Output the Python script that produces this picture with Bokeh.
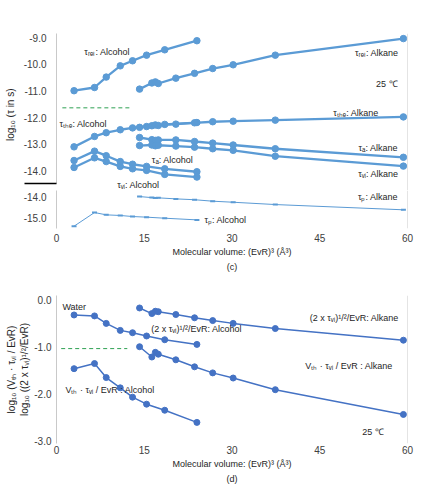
from bokeh.embed import file_html
from bokeh.layouts import column
from bokeh.models import FixedTicker, Label, LinearAxis, NumeralTickFormatter, Range1d, Span, Title
from bokeh.plotting import figure
from bokeh.resources import INLINE

# ---------------------------------------------------------------- data
# molecular volume (EvR)^3 in A^3
alc_x = [3.0, 6.5, 8.5, 10.9, 13.0, 15.4, 18.5, 24.0]
alk_x = [14.2, 16.3, 16.9, 17.4, 20.4, 23.6, 26.7, 30.2, 37.4, 59.3]

# (c) log10 of relaxation times (s)
rel_alc = [-10.99, -10.87, -10.48, -10.06, -9.87, -9.66, -9.46, -9.12]
rel_alk = [-10.93, -10.70, -10.66, -10.72, -10.52, -10.34, -10.16, -10.02, -9.66, -9.04]
the_alc = [-13.09, -12.70, -12.56, -12.45, -12.38, -12.33, -12.25, -12.18]
the_alk = [-12.36, -12.30, -12.27, -12.29, -12.24, -12.19, -12.15, -12.13, -12.09, -11.97]
a_alc = [-13.60, -13.25, -13.42, -13.64, -13.74, -13.82, -13.91, -14.02]
vi_alc = [-13.86, -13.50, -13.64, -13.82, -13.91, -13.97, -14.12, -14.22]
a_alk = [-12.74, -12.82, -12.85, -12.83, -12.83, -12.89, -12.95, -13.02, -13.16, -13.48]
vi_alk = [-13.04, -13.02, -13.05, -13.03, -13.06, -13.10, -13.16, -13.22, -13.44, -13.81]
p_alc = [-15.38, -14.73, -14.84, -14.87, -14.92, -14.95, -15.00, -15.08]
p_alk = [-13.97, -14.02, -14.04, -14.03, -14.08, -14.12, -14.19, -14.24, -14.35, -14.60]

# (d) normalised quantities
sq_alc = [-0.31, -0.33, -0.49, -0.64, -0.69, -0.76, -0.84, -0.94]
sq_alk = [-0.16, -0.28, -0.23, -0.24, -0.30, -0.37, -0.43, -0.49, -0.60, -0.85]
vth_alc = [-1.46, -1.35, -1.65, -1.87, -2.07, -2.22, -2.35, -2.61]
vth_alk = [-0.99, -1.21, -1.11, -1.15, -1.27, -1.42, -1.55, -1.66, -1.91, -2.44]

# reference levels (green dashed)
c_ref_x = [1.0, 12.6]
c_ref_y = -11.63
d_ref_x = [0.8, 12.1]
d_ref_y = -1.03

x_ticks = [0, 15, 30, 45, 60]
c_top_ticks = [-9, -10, -11, -12, -13, -14]
c_bot_ticks = [-14, -15]
d_ticks = [0, -1, -2, -3]

# where the upper (c) axis is cut
c_break = -14.46

# ---------------------------------------------------------------- style
FONT = "Liberation Sans"
BLUE_C = "#5b9bd5"
BLUE_D = "#4472c4"
GREEN = "#2ea052"
TXT = "#262626"
TICK = "#404040"
AXC = "#c9c9c9"
XTITLE = "Molecular volume: (EvR)\u00b3 (\u00c5\u00b3)"


def style_yaxis(ax, standoff):
    ax.axis_line_color = AXC
    ax.major_tick_line_color = None
    ax.minor_tick_line_color = None
    ax.major_tick_in = 0
    ax.major_tick_out = 0
    ax.minor_tick_in = 0
    ax.minor_tick_out = 0
    ax.formatter = NumeralTickFormatter(format="0.0")
    ax.major_label_text_font = FONT
    ax.major_label_text_font_size = "10px"
    ax.major_label_text_color = TICK
    ax.major_label_standoff = standoff
    ax.axis_label_text_font = FONT
    ax.axis_label_text_font_size = "10px"
    ax.axis_label_text_font_style = "normal"
    ax.axis_label_text_color = TXT


def make_fig(height, yr, left, right, top, bottom, with_x):
    p = figure(width=446, height=height, x_range=Range1d(0, 60), y_range=Range1d(*yr),
               output_backend="svg", toolbar_location=None,
               x_axis_location="below" if with_x else None,
               min_border_left=left, min_border_right=right,
               min_border_top=top, min_border_bottom=bottom)
    p.outline_line_color = None
    p.xgrid.visible = False
    p.ygrid.visible = False
    p.background_fill_color = "white"
    p.border_fill_color = "white"
    if with_x:
        ax = p.xaxis[0]
        ax.ticker = FixedTicker(ticks=x_ticks)
        ax.axis_line_color = None
        ax.major_tick_line_color = None
        ax.minor_tick_line_color = None
        ax.major_tick_in = 0
        ax.major_tick_out = 0
        ax.major_label_text_font = FONT
        ax.major_label_text_font_size = "10px"
        ax.major_label_text_color = TICK
        ax.axis_label = XTITLE
        ax.axis_label_text_font = FONT
        ax.axis_label_text_font_size = "9px"
        ax.axis_label_text_font_style = "normal"
        ax.axis_label_text_color = TXT
        ax.axis_label_standoff = 2
    p.add_layout(Span(location=60, dimension="height", line_color=AXC, line_width=1))
    return p


def note(p, x, y, text, align="left", size="9px"):
    p.add_layout(Label(x=x, y=y, text=text, text_align=align, text_baseline="middle",
                       text_font=FONT, text_font_size=size, text_color=TXT))


def series(p, xs, ys, color, lw, ms):
    p.line(xs, ys, line_color=color, line_width=lw)
    p.scatter(xs, ys, size=ms, color=color)


def panel_title(p, text):
    p.add_layout(Title(text=text, align="center", text_font=FONT, text_font_size="9px",
                       text_font_style="normal", text_color=TXT, standoff=0), "below")


# ---------------------------------------------------------------- (c) upper part
c_top = make_fig(190, (-14.722, -8.85), 54, 39, 33, 0, False)
yax = c_top.yaxis[0]
style_yaxis(yax, -22)
yax.ticker = FixedTicker(ticks=c_top_ticks, minor_ticks=[c_break])
yax.bounds = (c_break - 0.012, -8.85)
# the break mark is drawn as a long outward minor tick
yax.minor_tick_line_color = "black"
yax.minor_tick_line_width = 1.5
yax.minor_tick_out = 32
yax.axis_label = "log\u2081\u2080 (\u03c4  in  s)"
yax.axis_label_standoff = 5

for ys, xs in [(rel_alc, alc_x), (rel_alk, alk_x), (the_alc, alc_x), (the_alk, alk_x),
               (a_alc, alc_x), (vi_alc, alc_x), (a_alk, alk_x), (vi_alk, alk_x)]:
    series(c_top, xs, ys, BLUE_C, 2.3, 6.5)
c_top.line(c_ref_x, [c_ref_y, c_ref_y], line_color=GREEN, line_width=1, line_dash="4 3")

note(c_top, 4.76, -9.54, "\u03c4\u1d63\u2091\u2097: Alcohol")
note(c_top, 58.47, -9.58, "\u03c4\u1d63\u2091\u2097: Alkane", "right")
note(c_top, 58.3, -10.74, "25 \u2103", "right")
note(c_top, 55.07, -11.82, "\u03c4\u209c\u2095\u2091: Alkane", "right")
note(c_top, 0.51, -12.23, "\u03c4\u209c\u2095\u2091: Alcohol")
note(c_top, 16.3, -13.58, "\u03c4\u2090: Alcohol")
note(c_top, 58.8, -13.15, "\u03c4\u2090:  Alkane", "right")
note(c_top, 58.47, -14.09, "\u03c4\u1d65\u1d62: Alkane", "right")
note(c_top, 10.37, -14.50, "\u03c4\u1d65\u1d62: Alcohol")

# ---------------------------------------------------------------- (c) lower part
c_bot = make_fig(90, (-15.49, -13.681), 54, 39, 0, 52, True)
style_yaxis(c_bot.yaxis[0], 10)
c_bot.yaxis[0].ticker = FixedTicker(ticks=c_bot_ticks)
c_bot.xaxis[0].major_label_standoff = 5
panel_title(c_bot, "(c)")

for xs, ys in [(alk_x, p_alk), (alc_x, p_alc)]:
    c_bot.line(xs, ys, line_color=BLUE_C, line_width=1)
    c_bot.scatter(xs, ys, marker="dash", size=5, line_width=2, color=BLUE_C)

note(c_bot, 58.8, -13.99, "\u03c4\u209a:  Alkane", "right")
note(c_bot, 25.3, -15.09, "\u03c4\u209a: Alcohol")

# ---------------------------------------------------------------- (d)
d = make_fig(213, (-3.062, 0.107), 56, 34, 15, 50, True)
style_yaxis(d.yaxis[0], 5)
d.yaxis[0].ticker = FixedTicker(ticks=d_ticks)
d.yaxis[0].axis_label = "log\u2081\u2080 ((2 x \u03c4\u1d65\u1d62)\u00b9/\u00b2/EvR)"
d.yaxis[0].axis_label_standoff = 1
outer = LinearAxis(ticker=FixedTicker(ticks=[]))
style_yaxis(outer, 0)
outer.axis_line_color = None
outer.axis_label = "log\u2081\u2080 (V\u209c\u2095 \u00b7 \u03c4\u1d65\u1d62 / EvR)"
outer.axis_label_standoff = 0
d.add_layout(outer, "left")
d.xaxis[0].major_label_standoff = 2
panel_title(d, "(d)")

for ys, xs in [(sq_alc, alc_x), (sq_alk, alk_x), (vth_alc, alc_x), (vth_alk, alk_x)]:
    series(d, xs, ys, BLUE_D, 1.5, 6)
d.line(d_ref_x, [d_ref_y, d_ref_y], line_color=GREEN, line_width=1, line_dash="4 3")

note(d, 1.01, -0.13, "Water")
note(d, 16.18, -0.62, "(2 x \u03c4\u1d65\u1d62)\u00b9/\u00b2/EvR: Alcohol")
note(d, 58.49, -0.375, "(2 x \u03c4\u1d65\u1d62)\u00b9/\u00b2/EvR: Alkane", "right")
note(d, 57.47, -1.41, "V\u209c\u2095 \u00b7 \u03c4\u1d65\u1d62 / EvR : Alkane", "right")
note(d, 1.52, -1.92, "V\u209c\u2095 \u00b7 \u03c4\u1d65\u1d62 / EvR : Alcohol")
note(d, 55.96, -2.82, "25 \u2103", "right")

layout = column(c_top, c_bot, d)
open("out.html", "w").write(file_html(layout, INLINE))
